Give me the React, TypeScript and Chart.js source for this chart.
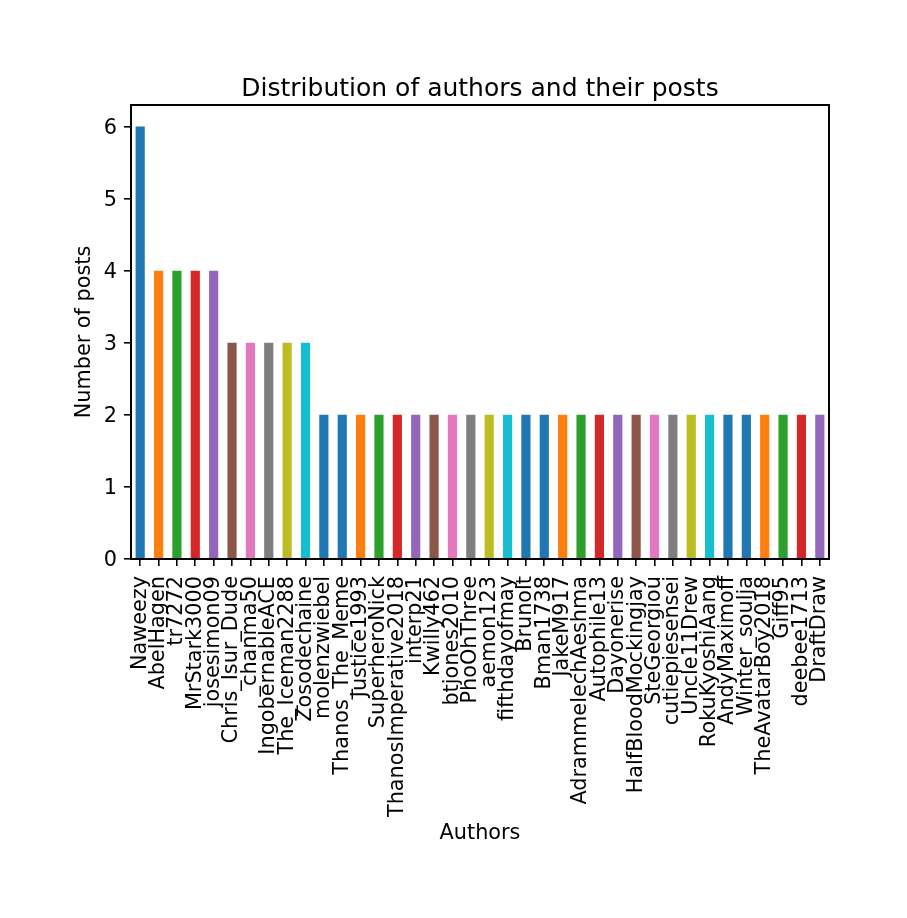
import React, { useEffect, useRef } from "react";
import { Chart, registerables } from "chart.js";

Chart.register(...registerables);

const authors = [
  "Naweezy", "AbelHagen", "tr7272", "MrStark3000", "josesimon09", "Chris_Isur_Dude",
  "_chanma50", "IngobernableACE", "The_Iceman2288", "Zosodechaine", "molenzwiebel",
  "Thanos_The_Meme", "Justice1993", "SuperheroNick", "ThanosImperative2018", "interp21",
  "Kwilly462", "btjones2010", "PhoOhThree", "aemon123", "fifthdayofmay", "Brunolt",
  "Bman1738", "JakeM917", "AdrammelechAeshma", "Autophile13", "Dayonerise",
  "HalfBloodMockingjay", "SteGeorgiou", "cutiepiesensei", "Uncle11Drew", "RokuKyoshiAang",
  "AndyMaximoff", "Winter_soulja", "TheAvatarBoy2018", "Giff95", "deebee1713", "DraftDraw",
];

const posts = [
  6, 4, 4, 4, 4, 3, 3, 3, 3, 3,
  2, 2, 2, 2, 2, 2, 2, 2, 2, 2,
  2, 2, 2, 2, 2, 2, 2, 2, 2, 2,
  2, 2, 2, 2, 2, 2, 2, 2,
];

const palette = [
  "#1f77b4", "#ff7f0e", "#2ca02c", "#d62728", "#9467bd",
  "#8c564b", "#e377c2", "#7f7f7f", "#bcbd22", "#17becf", "#1f77b4",
];

const chartTitle = "Distribution of authors and their posts";
const xTitle = "Authors";
const yTitle = "Number of posts";

const FONT = "'DejaVu Sans', sans-serif";
const TICK_SIZE = 20.8;
const TITLE_SIZE = 25;

const frame = {
  id: "frame",
  afterDraw(chart: any) {
    const { ctx, chartArea } = chart;
    ctx.save();
    ctx.strokeStyle = "#000";
    ctx.lineWidth = 2;
    ctx.strokeRect(
      Math.round(chartArea.left),
      Math.round(chartArea.top),
      Math.round(chartArea.right - chartArea.left),
      Math.round(chartArea.bottom - chartArea.top)
    );
    ctx.restore();
  },
};

export default function App() {
  const ref = useRef<HTMLCanvasElement>(null);
  useEffect(() => {
    if (!ref.current) return;
    const chart = new Chart(ref.current, {
      type: "bar",
      data: {
        labels: authors,
        datasets: [
          {
            data: posts,
            backgroundColor: posts.map((_, i) => palette[i % palette.length]),
            barPercentage: 0.5,
            categoryPercentage: 1,
          },
        ],
      },
      options: {
        animation: false,
        responsive: false,
        devicePixelRatio: 1,
        layout: { padding: { left: 0, right: 78, top: 0, bottom: 0 } },
        plugins: {
          legend: { display: false },
          tooltip: { enabled: false },
          title: {
            display: true,
            text: chartTitle,
            fullSize: false,
            color: "#000",
            font: { family: FONT, size: TITLE_SIZE, weight: "normal", lineHeight: 1.2 },
            padding: { top: 74, bottom: 1 },
          },
        },
        scales: {
          x: {
            type: "category",
            offset: true,
            grid: {
              display: true,
              drawOnChartArea: false,
              drawTicks: true,
              tickLength: 7,
              offset: false,
              color: "#000",
              lineWidth: 1.6,
            },
            border: { display: true, color: "#000", width: 2 },
            ticks: {
              autoSkip: false,
              maxRotation: 90,
              minRotation: 90,
              padding: 10,
              color: "#000",
              font: { family: FONT, size: TICK_SIZE },
            },
            title: {
              display: true,
              text: xTitle,
              color: "#000",
              font: { family: FONT, size: TICK_SIZE, lineHeight: 1.2 },
              padding: { top: 0, bottom: 71.5 },
            },
            afterFit(scale: any) {
              scale.height = 918 - 559;
            },
          },
          y: {
            type: "linear",
            min: 0,
            max: 6.3,
            grid: {
              display: true,
              drawOnChartArea: false,
              drawTicks: true,
              tickLength: 7,
              color: "#000",
              lineWidth: 1.6,
            },
            border: { display: true, color: "#000", width: 2 },
            ticks: {
              stepSize: 1,
              includeBounds: false,
              padding: 7,
              labelOffset: 2,
              color: "#000",
              font: { family: FONT, size: TICK_SIZE },
            },
            title: {
              display: true,
              text: yTitle,
              color: "#000",
              font: { family: FONT, size: TICK_SIZE, lineHeight: 1.2 },
              padding: { top: 72, bottom: 0 },
            },
            afterFit(scale: any) {
              scale.width = 131;
            },
          },
        },
      },
      plugins: [frame],
    });
    return () => chart.destroy();
  }, []);
  return (
    <div style={{ position: "fixed", left: 0, top: 0, width: 907, height: 918, background: "#fff", overflow: "hidden" }}>
      <canvas ref={ref} width={907} height={918} style={{ display: "block", width: 907, height: 918 }} />
    </div>
  );
}
